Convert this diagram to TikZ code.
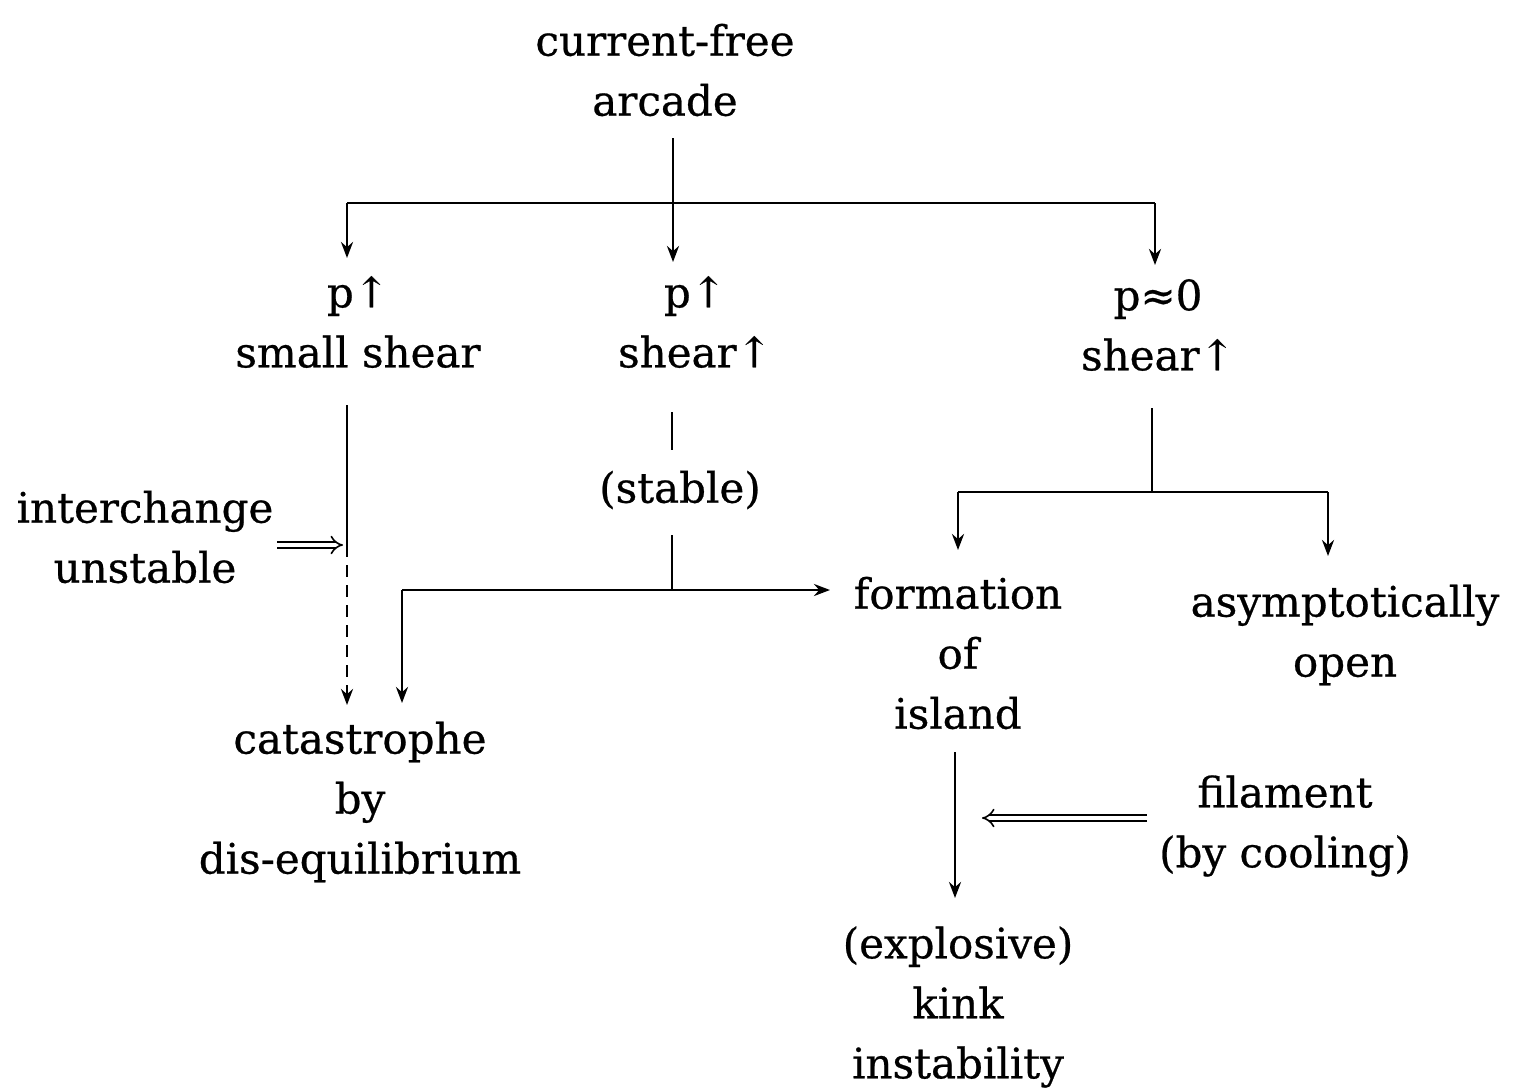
\documentclass[tikz,border=0pt]{standalone}
\usepackage{fontspec}
\setmainfont[FakeBold=0.6]{DejaVu Serif}
\usetikzlibrary{arrows.meta}
\begin{document}
\begin{tikzpicture}[x=0.5pt,y=-0.5pt,
  lbl/.style={inner sep=0pt,align=center,font=\fontsize{21}{30}\selectfont},
  conn/.style={line width=1.4pt},
  tip/.style={-{Stealth[length=8pt,width=6pt]}},
  arr/.style={conn,tip},
  dbl/.style={double,double distance=2.4pt,line width=0.8pt,-{Implies[length=6pt]}}]
\useasboundingbox (0,0) rectangle (1515,1092);
% texts
\node[lbl] (top) at (665,70) {current-free\\arcade};
\node[lbl] (A) at (358,322) {p↑\\small shear};
\node[lbl] (B) at (695,322) {p↑\\shear↑};
\node[lbl] (C) at (1158,325) {p≈0\\shear↑};
\node[lbl] (stab) at (680,490) {(stable)};
\node[lbl] (inter) at (145,537) {interchange\\unstable};
\node[lbl] (form) at (958,653) {formation\\of\\island};
\node[lbl] (asym) at (1345,635) {asymptotically\\open};
\node[lbl] (cat) at (360,802) {catastrophe\\by\\dis-equilibrium};
\node[lbl] (fil) at (1285,826) {filament\\(by cooling)};
\node[lbl] (kink) at (958,1007) {(explosive)\\kink\\instability};
% coordinates
\coordinate (t0) at (673,138);
\coordinate (t1) at (673,262);
\coordinate (jl) at (347,203);
\coordinate (jr) at (1155,203);
\coordinate (jl2) at (347,258);
\coordinate (jr2) at (1155,265);
\coordinate (a1) at (347,405);
\coordinate (a2) at (347,545);
\coordinate (a3) at (347,705);
\coordinate (b1) at (672,412);
\coordinate (b2) at (672,450);
\coordinate (b3) at (672,535);
\coordinate (b4) at (672,590);
\coordinate (bl) at (402,590);
\coordinate (bl2) at (402,703);
\coordinate (br) at (830,590);
\coordinate (c1) at (1152,408);
\coordinate (c2) at (1152,492);
\coordinate (cl) at (958,492);
\coordinate (cr) at (1328,492);
\coordinate (cl2) at (958,550);
\coordinate (cr2) at (1328,556);
\coordinate (f1) at (955,752);
\coordinate (f2) at (955,898);
\coordinate (i1) at (277,545);
\coordinate (i2) at (343,545);
\coordinate (g1) at (1147,818);
\coordinate (g2) at (982,818);
% connectors
\draw[arr] (t0) -- (t1);
\draw[conn] (jl) -- (jr);
\draw[arr] (jl) -- (jl2);
\draw[arr] (jr) -- (jr2);
\draw[conn] (a1) -- (a2);
\draw[conn,dash pattern=on 6pt off 4pt,tip] (a2) -- (a3);
\draw[dbl] (i1) -- (i2);
\draw[conn] (b1) -- (b2);
\draw[conn] (b3) -- (b4);
\draw[arr] (bl) -- (br);
\draw[arr] (bl) -- (bl2);
\draw[conn] (c1) -- (c2);
\draw[conn] (cl) -- (cr);
\draw[arr] (cl) -- (cl2);
\draw[arr] (cr) -- (cr2);
\draw[arr] (f1) -- (f2);
\draw[dbl] (g1) -- (g2);
\end{tikzpicture}
\end{document}
